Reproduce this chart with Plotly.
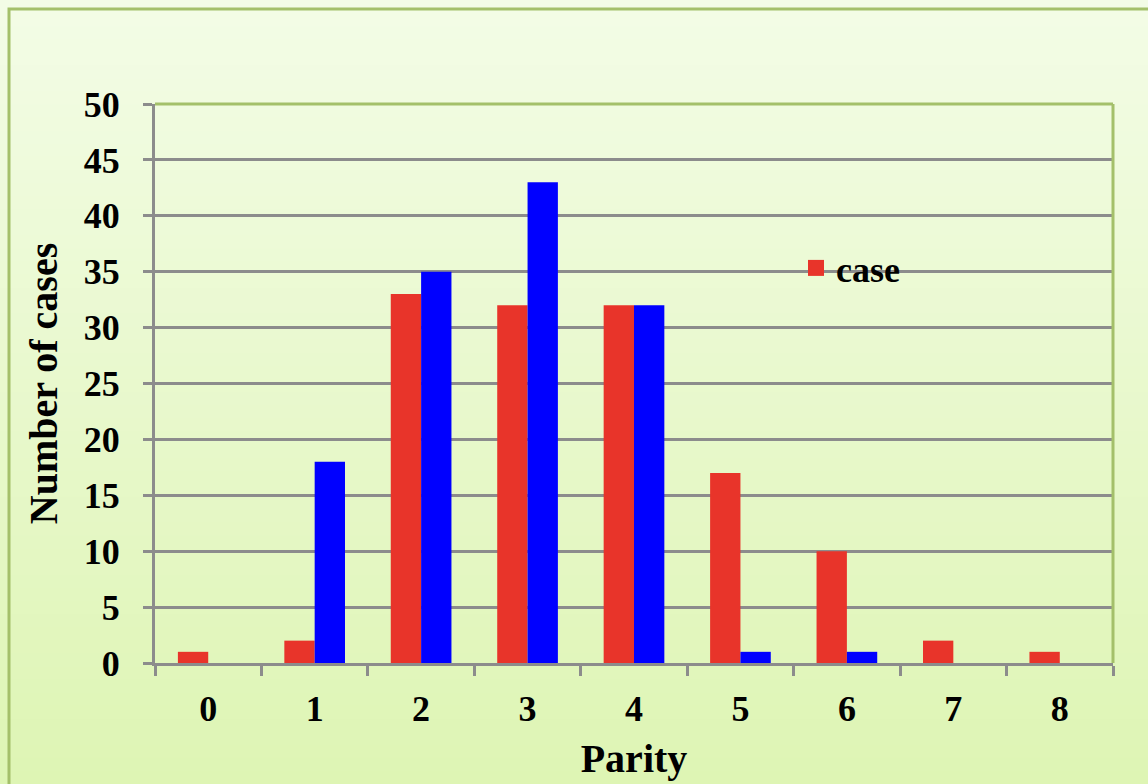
import plotly.graph_objects as go

parity = ["0", "1", "2", "3", "4", "5", "6", "7", "8"]
case_vals = [1, 2, 33, 32, 32, 17, 10, 2, 1]
control_vals = [0, 18, 35, 43, 32, 1, 1, 0, 0]
y_ticks = [0, 5, 10, 15, 20, 25, 30, 35, 40, 45, 50]

W, H = 1148, 784
ML, MR, MT, MB = 155, 35, 104, 121
pw, ph = W - ML - MR, H - MT - MB

def px2x(px):
    return (px - ML) / pw

def py2y(py):
    return (H - MB - py) / ph

font = "Liberation Serif"
RED = "#e8342a"
BLUE = "#0000ff"

fig = go.Figure()
fig.add_trace(go.Bar(x=parity, y=case_vals, name="case", marker_color=RED,
                     marker_line_width=0, showlegend=False))
fig.add_trace(go.Bar(x=parity, y=control_vals, name="control", marker_color=BLUE,
                     marker_line_width=0, showlegend=False))
# legend entry for case series (larger square symbol like the reference)
fig.add_trace(go.Scatter(x=[None], y=[None], mode="markers", name="<b>case</b>",
                         marker=dict(symbol="square", size=20, color=RED),
                         showlegend=True))

shapes = []
top = (243, 252, 230)
bot = (222, 245, 180)
n = 60
for i in range(n):
    t = i / (n - 1)
    c = tuple(int(round(top[k] + (bot[k] - top[k]) * t)) for k in range(3))
    y0 = i * H / n
    y1 = (i + 1) * H / n + 1
    shapes.append(dict(type="rect", xref="paper", yref="paper", layer="below",
                       x0=px2x(-5), x1=px2x(W + 5), y0=py2y(y1), y1=py2y(y0),
                       fillcolor="rgb(%d,%d,%d)" % c, line_width=0))
shapes.append(dict(type="rect", xref="paper", yref="paper", layer="above",
                   x0=px2x(9), x1=px2x(W + 20), y0=py2y(H + 20), y1=py2y(9),
                   line=dict(color="#a4c06a", width=3), fillcolor="rgba(0,0,0,0)"))
shapes.append(dict(type="line", xref="paper", yref="paper", layer="above",
                   x0=0, x1=1, y0=1, y1=1, line=dict(color="#a4c06a", width=3)))
shapes.append(dict(type="line", xref="paper", yref="paper", layer="above",
                   x0=1, x1=1, y0=0, y1=1, line=dict(color="#a4c06a", width=3)))

fig.update_layout(
    width=W, height=H,
    margin=dict(l=ML, r=MR, t=MT, b=MB, pad=0),
    paper_bgcolor="#eaf8cc",
    plot_bgcolor="rgba(0,0,0,0)",
    barmode="group", bargap=0.43, bargroupgap=0,
    shapes=shapes,
    font=dict(family=font, color="black"),
    legend=dict(x=px2x(796), y=py2y(268), xanchor="left", yanchor="middle",
                bgcolor="rgba(0,0,0,0)", font=dict(size=36, family=font),
                itemwidth=30, tracegroupgap=0),
    showlegend=True,
)
fig.update_xaxes(
    type="category", showline=True, linecolor="#8c8c8c", linewidth=3,
    ticks="outside", tickson="boundaries", ticklen=10, tickwidth=3, tickcolor="#8c8c8c",
    tickfont=dict(size=36, family=font), showgrid=False, ticklabelstandoff=12,
    title=dict(text="<b>Parity</b>", font=dict(size=40, family=font), standoff=16),
    tickprefix="<b>", ticksuffix="</b>",
)
fig.update_yaxes(
    range=[0, 50], tickvals=y_ticks, ticktext=["<b>%d</b>" % v for v in y_ticks],
    showline=True, linecolor="#8c8c8c", linewidth=3,
    ticks="outside", ticklen=9, tickwidth=3, tickcolor="#8c8c8c",
    tickfont=dict(size=36, family=font), ticklabelstandoff=16,
    showgrid=True, gridcolor="#8c8c8c", gridwidth=2.5, zeroline=False,
    title=dict(text="<b>Number of cases</b>", font=dict(size=40, family=font), standoff=14),
)
fig.write_html("out.html", config={"displayModeBar": False},
               post_script="document.body.style.margin='0';")
